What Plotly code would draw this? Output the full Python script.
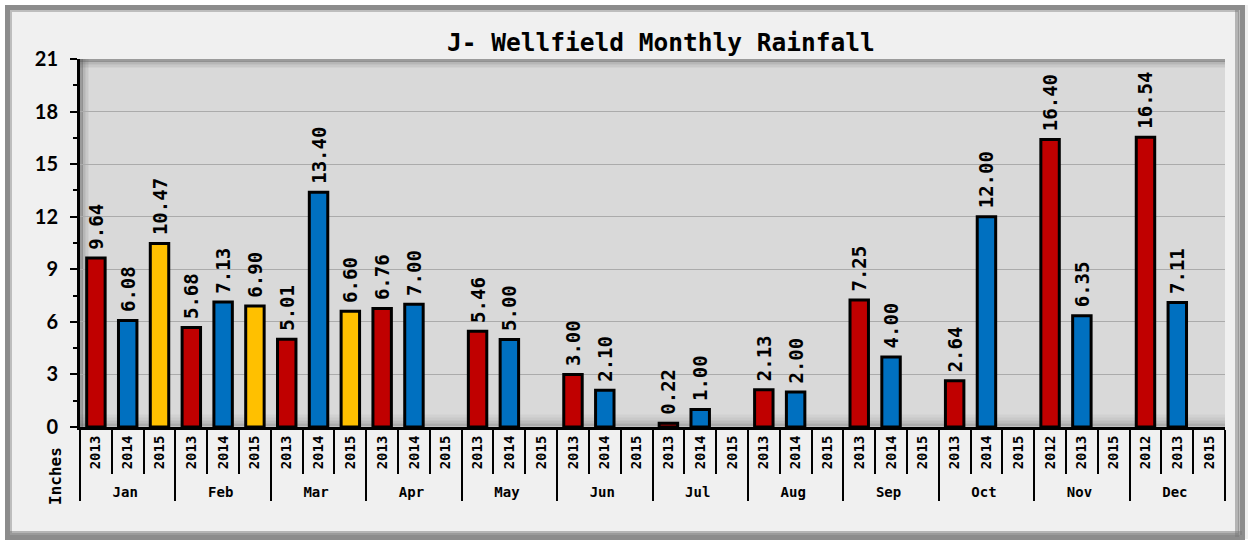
import plotly.graph_objects as go

months = ["Jan", "Feb", "Mar", "Apr", "May", "Jun", "Jul", "Aug", "Sep", "Oct", "Nov", "Dec"]
years_std = ["2013", "2014", "2015"]
# zero-width space keeps Nov/Dec year labels distinct so 2012 sorts first in those groups
years_late = ["2012", "2013\u200b", "2015\u200b"]
first_vals = [9.64, 5.68, 5.01, 6.76, 5.46, 3.00, 0.22, 2.13, 7.25, 2.64, 16.40, 16.54]
second_vals = [6.08, 7.13, 13.40, 7.00, 5.00, 2.10, 1.00, 2.00, 4.00, 12.00, 6.35, 7.11]
third_vals = [10.47, 6.90, 6.60, None, None, None, None, None, None, None, None, None]
slot_colors = ["#C00000", "#0070C0", "#FFC000"]
y_ticks = [0, 3, 6, 9, 12, 15, 18, 21]

xm, xy, yv, cols = [], [], [], []
for i, m in enumerate(months):
    yrs = years_late if m in ("Nov", "Dec") else years_std
    vals = [first_vals[i], second_vals[i], third_vals[i]]
    for k in range(3):
        xm.append(m)
        xy.append(yrs[k])
        yv.append(vals[k])
        cols.append(slot_colors[k])
n_slots = len(xm)

mono = "DejaVu Sans Mono"

fig = go.Figure()
fig.add_trace(go.Bar(
    x=[xm, xy], y=yv,
    marker=dict(color=cols, line=dict(color="black", width=3)),
    texttemplate="<span style='font-size:9px'> </span>%{y:.2f}", textposition="outside", textangle=-90,
    constraintext="none", cliponaxis=False,
    textfont=dict(family=mono, size=19, color="black", weight="bold"),
    hoverinfo="skip",
))
# empty helper trace so the overlay axis (slot boundary lines) is drawn
fig.add_trace(go.Scatter(x=[None], y=[None], xaxis="x2", yaxis="y", mode="markers",
                         showlegend=False, hoverinfo="skip"))

W, H = 1253, 544
L, R, T, B = 80, 28, 59, 117
pw, ph = W - L - R, H - T - B

def px_x(p):
    return (p - L) / pw

def px_y(p):
    return (H - B - p) / ph

fig.update_layout(
    width=W, height=H,
    margin=dict(l=L, r=R, t=T, b=B),
    paper_bgcolor="#F0F0F0", plot_bgcolor="#D9D9D9",
    bargap=0.42, showlegend=False,
    title=dict(text="J- Wellfield Monthly Rainfall", x=661 / W, xanchor="center",
               y=1 - 42 / H, yanchor="middle",
               font=dict(family=mono, size=24.5, color="black", weight="bold")),
    xaxis=dict(type="multicategory", tickangle=-90, showline=True, linecolor="black", linewidth=3,
               ticks="outside", ticklen=4, tickcolor="black", tickwidth=2,
               tickfont=dict(family=mono, size=14, color="black", weight="bold"),
               dividercolor="black", dividerwidth=2, showgrid=False),
    xaxis2=dict(type="linear", overlaying="x", anchor="y", side="bottom", range=[-0.5, n_slots - 0.5],
                tickvals=[i + 0.5 for i in range(n_slots - 1)], ticks="outside", ticklen=46,
                tickwidth=2, tickcolor="black", showticklabels=False, showgrid=False,
                showline=False, zeroline=False),
    yaxis=dict(range=[0, 21], tickvals=y_ticks, showline=True,
               linecolor="black", linewidth=3, ticks="outside", ticklen=7, tickwidth=2,
               tickcolor="black", gridcolor="#ABABAB", gridwidth=1, zeroline=False,
               ticklabelstandoff=8,
               minor=dict(dtick=1.5, ticks="outside", ticklen=4, tickcolor="black", showgrid=False),
               tickfont=dict(family="Lato", size=20, color="black", weight="bold")),
)

fig.add_annotation(text="Inches", textangle=-90, xref="paper", yref="paper",
                   x=px_x(55), y=px_y(476), xanchor="center", yanchor="middle", showarrow=False,
                   font=dict(family=mono, size=16, color="black", weight="bold"))

# white outer margin and grey frame
fig.add_shape(type="rect", xref="paper", yref="paper", x0=px_x(0), x1=px_x(W), y0=px_y(H), y1=px_y(0),
              line=dict(color="white", width=10), layer="below")
fig.add_shape(type="rect", xref="paper", yref="paper", x0=px_x(8), x1=px_x(1242), y0=px_y(537), y1=px_y(8),
              line=dict(color="#8C8C8C", width=6), layer="below")
fig.add_shape(type="rect", xref="paper", yref="paper", x0=px_x(11), x1=px_x(1239), y0=px_y(534), y1=px_y(11),
              line=dict(color="#BDBDBD", width=2), layer="below")
# heavier shadow along bottom and right of the frame
fig.add_shape(type="line", xref="paper", yref="paper", x0=px_x(10), x1=px_x(1242), y0=px_y(533), y1=px_y(533),
              line=dict(color="rgba(120,120,120,0.5)", width=4), layer="below")
fig.add_shape(type="line", xref="paper", yref="paper", x0=px_x(1237), x1=px_x(1237), y0=px_y(537), y1=px_y(10),
              line=dict(color="rgba(120,120,120,0.5)", width=4), layer="below")

# inner shadow along top, left and bottom of plot area
for d, op in [(1.5, 0.45), (4, 0.25), (7, 0.12)]:
    fig.add_shape(type="line", xref="paper", yref="paper", x0=px_x(L + d), x1=px_x(L + d), y0=0, y1=1,
                  line=dict(color="rgba(80,80,80,%s)" % op, width=3), layer="below")
    fig.add_shape(type="line", xref="paper", yref="paper", x0=0, x1=1, y0=px_y(T + d), y1=px_y(T + d),
                  line=dict(color="rgba(80,80,80,%s)" % op, width=3), layer="below")
for d, op in [(2, 0.35), (5, 0.22), (8, 0.12), (11, 0.06)]:
    fig.add_shape(type="line", xref="paper", yref="paper", x0=0, x1=1, y0=px_y(H - B - d), y1=px_y(H - B - d),
                  line=dict(color="rgba(90,90,90,%s)" % op, width=3), layer="below")

fig.write_html("out.html", config={"displayModeBar": False},
               post_script="document.body.style.margin='0';")
